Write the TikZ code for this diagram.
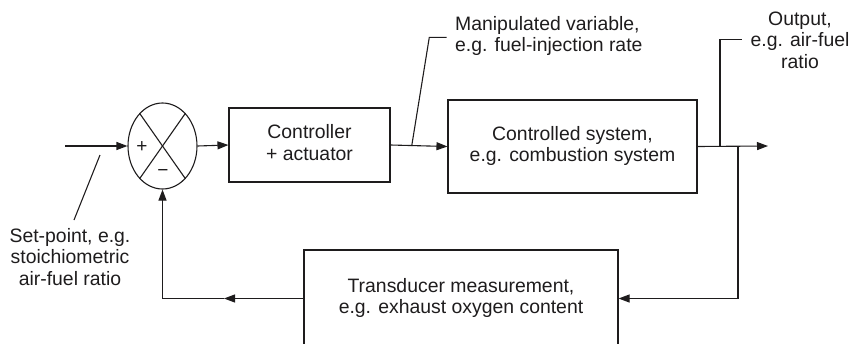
\documentclass[tikz,border=0pt]{standalone}
\usepackage{fontspec}
\setmainfont{Liberation Sans}
\usetikzlibrary{shapes.geometric,arrows.meta}
\definecolor{ink}{RGB}{30,28,29}
\begin{document}
\begin{tikzpicture}[x=1pt,y=-1pt,
  every node/.style={text=ink},
  lbl/.style={font=\fontsize{19.4}{21.5}\selectfont, inner sep=0pt, align=center},
  blk/.style={draw=ink, line width=1.1pt, rectangle, inner sep=0pt, font=\fontsize{19.4}{21.5}\selectfont, align=center},
  ln/.style={draw=ink, line width=1.1pt},
  arr/.style={ln, -{Triangle[length=11pt,width=8pt]}}]
\useasboundingbox (0,0) rectangle (849,343);
\clip (0,0) rectangle (849,343);
% summing junction
\node[draw=ink, line width=1.1pt, ellipse, minimum width=69pt, minimum height=86pt, inner sep=0pt] (S) at (162.5,146) {};
\draw[ln] (S.55) -- (S.235);
\draw[ln] (S.125) -- (S.-55);
\node[font=\fontsize{19}{21}\selectfont, inner sep=0pt] (plus) at (142,147) {+};
\node[font=\fontsize{19}{21}\selectfont, inner sep=0pt] (minus) at (163,173) {−};
% blocks
\node[blk, minimum width=161pt, minimum height=74pt] (C) at (309.5,145) {\strut Controller\\\strut + actuator};
\node[blk, minimum width=249pt, minimum height=93pt] (P) at (572.5,146.5) {\strut Controlled system,\\\strut e.g. combustion system};
\node[blk, minimum width=314pt, minimum height=97pt] (T) at (461,298.5) {\strut Transducer measurement,\\\strut e.g. exhaust oxygen content};
% coordinates
\coordinate (in) at (65,146);
\coordinate (out) at (768,146);
\coordinate (m1) at (411.7,146);
\coordinate (m2) at (429.3,37.3);
\coordinate (m3) at (446.7,37.3);
\coordinate (o1) at (720,146);
\coordinate (o2) at (720,39.5);
\coordinate (o3) at (742,39.5);
\coordinate (s1) at (100,155);
\coordinate (s2) at (74,220);
\coordinate (br) at (738,146);
\coordinate (fbm) at (224,298.5);
\coordinate (fbc) at (162.5,298.5);
% forward path
\draw[arr] (in) -- (S.west);
\draw[arr] (S.east) -- (C.west);
\draw[arr] (C.east) -- (P.west);
\draw[arr] (P.east) -- (out);
% feedback path
\draw[arr] (br) |- (T.east);
\draw[arr] (T.west) -- (fbm);
\draw[arr] (fbm) -- (fbc) -- (S.south);
% leaders
\draw[ln] (m1) -- (m2) -- (m3);
\draw[ln] (o1) -- (o2) -- (o3);
\draw[ln] (s1) -- (s2);
% labels
\node[lbl, anchor=north west, align=left] (ml) at (455,15) {\strut Manipulated variable,\\\strut e.g. fuel-injection rate};
\node[lbl, anchor=north] (ol) at (800,10) {\strut Output,\\\strut e.g. air-fuel\\\strut ratio};
\node[lbl, anchor=north] (sl) at (70,227) {\strut Set-point, e.g.\\\strut stoichiometric\\\strut air-fuel ratio};
\end{tikzpicture}
\end{document}
